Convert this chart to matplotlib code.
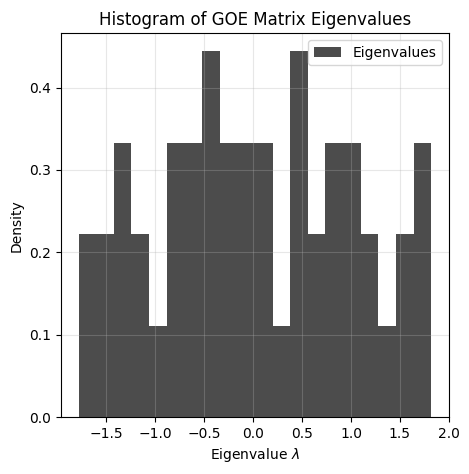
"""Histogram of GOE matrix eigenvalues."""

import matplotlib

matplotlib.use("Agg")
import matplotlib.pyplot as plt
import numpy as np

# bin edges (20 bins) and eigenvalue counts per bin
bin_lo = -1.785
bin_hi = 1.82
n_bins = 20
counts = [2, 2, 3, 2, 1, 3, 3, 4, 3, 3, 3, 1, 4, 2, 3, 3, 2, 1, 2, 3]

edges = np.linspace(bin_lo, bin_hi, n_bins + 1)
centers = (edges[:-1] + edges[1:]) / 2

fig, ax = plt.subplots(figsize=(4.69, 4.74), dpi=100)
ax.hist(centers, bins=edges, weights=counts, density=True,
        color="black", alpha=0.7, label="Eigenvalues")
ax.set_xlabel(r"Eigenvalue $\lambda$")
ax.set_ylabel("Density")
ax.set_title("Histogram of GOE Matrix Eigenvalues")
ax.legend(loc="upper right")
ax.grid(True, alpha=0.3)

fig.subplots_adjust(left=0.130, right=0.957, top=0.930, bottom=0.120)
fig.savefig("out.png", dpi=100)
